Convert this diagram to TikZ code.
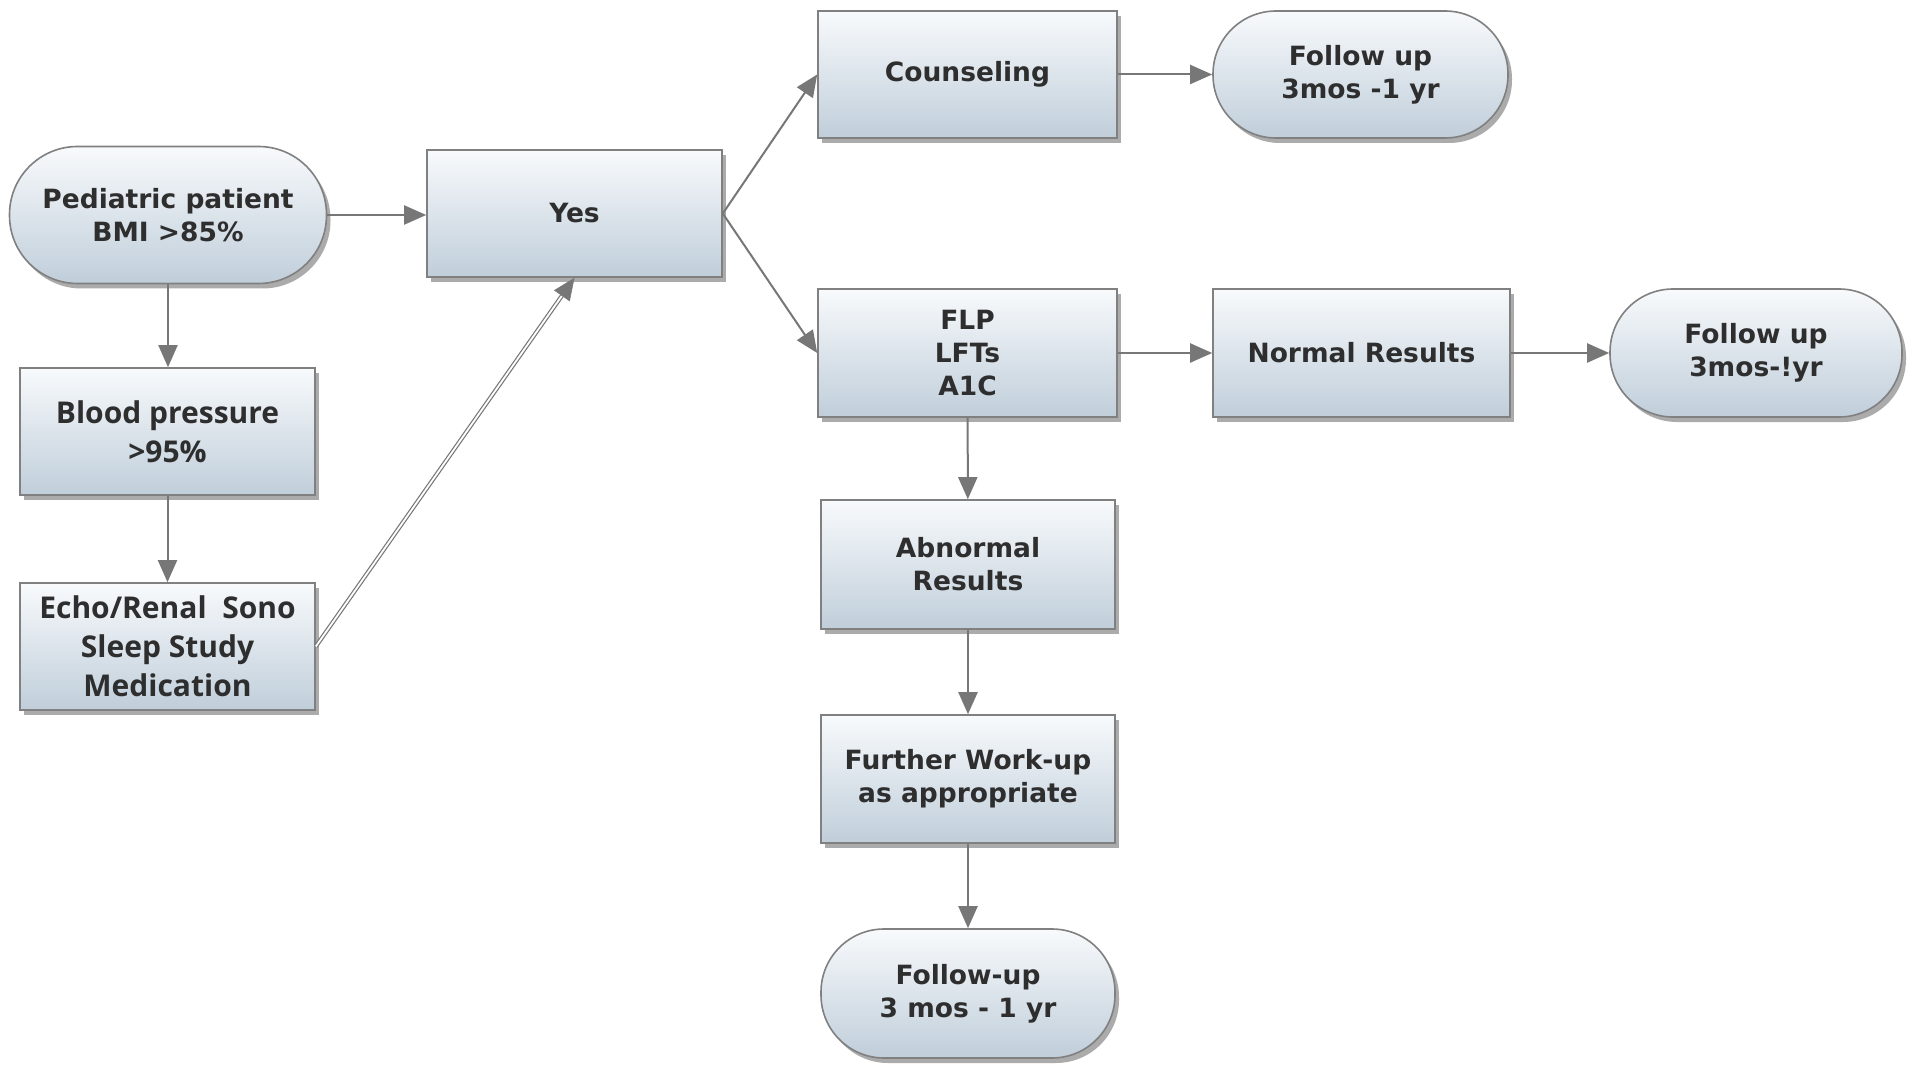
\documentclass[tikz,border=0pt]{standalone}
\usepackage{fontspec}
\setmainfont{DejaVu Sans}
\newfontfamily\osfont{Open Sans}
\usetikzlibrary{shadows,arrows.meta,calc}
\definecolor{edge}{HTML}{808080}
\definecolor{topc}{HTML}{F8FAFC}
\definecolor{botc}{HTML}{C0CEDA}
\definecolor{txt}{HTML}{2E2E2E}
\definecolor{arr}{HTML}{777777}
\tikzset{
  box/.style={draw=edge, line width=1.6pt, top color=topc, bottom color=botc,
    minimum width=295pt, minimum height=127pt, align=center, text=txt, inner sep=0pt,
    font=\bfseries\fontsize{26.5}{33}\selectfont,
    drop shadow={shadow xshift=4pt, shadow yshift=-5pt, fill=black!55, opacity=0.6}},
  osbox/.style={box, font=\osfont\bfseries\fontsize{30}{39}\selectfont},
  pill/.style={box, rounded corners=63pt},
  conn/.style={draw=arr, line width=2pt, -{Triangle[length=22pt,width=19pt]}},
  tiponly/.style={draw=arr, fill=arr, line width=0.5pt, -{Triangle[length=22pt,width=19pt]}},
  dbl/.style={draw=arr, line width=1.2pt, double=white, double distance=1.8pt}
}
\begin{document}
\begin{tikzpicture}[x=1pt,y=-1pt]
\path[fill=white] (0,0) rectangle (1912,1067);
\useasboundingbox (0,0) rectangle (1912,1067);
\node[pill, minimum width=317pt, minimum height=137pt, rounded corners=68pt] (ped) at (168,215) {Pediatric patient\\BMI >85\%};
\node[box] (yes) at (574.5,213.5) {Yes};
\node[osbox] (bp) at (167.5,431.5) {Blood pressure\\>95\%};
\node[osbox] (echo) at (167.5,646.5) {Echo/Renal\ \ Sono\\Sleep Study\\Medication};
\node[box, minimum width=299pt] (cou) at (967.5,74.5) {Counseling};
\node[pill] (fu1) at (1360.5,74.5) {Follow up\\3mos -1 yr};
\node[box, minimum width=299pt, minimum height=128pt] (flp) at (967.5,353) {FLP\\LFTs\\A1C};
\node[box, minimum width=297pt, minimum height=128pt] (norm) at (1361.5,353) {Normal Results};
\node[pill, minimum width=292pt, minimum height=128pt] (fu2) at (1756,353) {Follow up\\3mos-!yr};
\node[box, minimum width=294pt, minimum height=129pt] (abn) at (968,564.5) {Abnormal\\Results};
\node[box, minimum width=294pt, minimum height=128pt] (fur) at (968,779) {Further Work-up\\as appropriate};
\node[pill, minimum width=294pt, minimum height=129pt] (fu3) at (968,993.5) {Follow-up\\3 mos - 1 yr};

\draw[conn] (ped.east) -- (ped.east -| yes.west);
\draw[conn] (ped.south) -- (ped.south |- bp.north);
\draw[conn] (bp) -- (echo);
\draw[conn] (yes.east) -- (cou.west);
\draw[conn] (yes.east) -- (flp.west);
\draw[conn] (cou) -- (fu1);
\draw[conn] (flp) -- (norm);
\draw[conn] (norm) -- (fu2);
\draw[conn] (flp) -- (abn);
\draw[conn] (abn) -- (fur);
\draw[conn] (fur) -- (fu3);
\draw[dbl, shorten >=20pt] (echo.east) -- (yes.south);
\draw[tiponly] ($(yes.south)!21pt!(echo.east)$) -- (yes.south);
\end{tikzpicture}
\end{document}
